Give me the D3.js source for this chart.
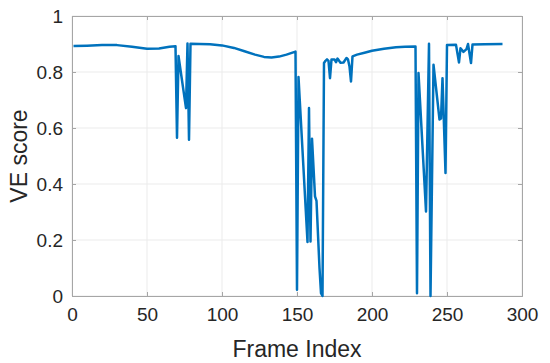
<!DOCTYPE html>
<html>
<head>
<meta charset="utf-8">
<script src="https://cdn.jsdelivr.net/npm/d3@7"></script>
<style>
  body { margin: 0; background: #fff; }
  text { font-family: "Liberation Sans", Arial, Helvetica, sans-serif; fill: #262626; }
</style>
</head>
<body>
<div id="container"></div>
<script>
// frame index and VE score
var frames = [1, 10, 20, 30, 40, 50, 58, 65, 69, 70, 71, 76, 77, 78, 79, 85, 92, 100, 108, 115,
  122, 128, 133, 138, 143, 149, 150, 151, 157, 158, 159, 160, 162, 163, 165, 166, 167, 168, 169, 170,
  171, 172, 173, 175, 176, 177, 179, 181, 183, 184, 185, 186, 187, 190, 195, 200, 208, 216, 222, 229,
  230, 231, 236, 238, 239, 241, 245, 246, 247, 249, 250, 256, 258, 259, 261, 263, 264, 266, 267, 275, 287];
var scores = [0.893, 0.894, 0.896, 0.896, 0.890, 0.883, 0.884, 0.890, 0.892, 0.565, 0.857, 0.671, 0.902, 0.558, 0.901, 0.900, 0.899, 0.895, 0.886, 0.874,
  0.862, 0.854, 0.852, 0.855, 0.862, 0.873, 0.022, 0.782, 0.193, 0.671, 0.195, 0.562, 0.356, 0.340, 0.100, 0.010, 0.000, 0.832, 0.840, 0.845,
  0.840, 0.778, 0.845, 0.845, 0.835, 0.848, 0.833, 0.834, 0.850, 0.845, 0.820, 0.766, 0.856, 0.862, 0.869, 0.876, 0.883, 0.888, 0.890, 0.891,
  0.010, 0.796, 0.302, 0.901, 0.000, 0.826, 0.630, 0.634, 0.778, 0.439, 0.896, 0.897, 0.834, 0.885, 0.872, 0.882, 0.900, 0.832, 0.898, 0.899, 0.900];
var xTicks = [0, 50, 100, 150, 200, 250, 300];
var yTicks = [0, 0.2, 0.4, 0.6, 0.8, 1];

var W = 550, H = 363,
    margin = {top: 16, bottom: 67, left: 72, right: 28},
    width = W - margin.left - margin.right,
    height = H - margin.top - margin.bottom;

var svg = d3.select("#container").append("svg").attr("width", W).attr("height", H);
var g = svg.append("g").attr("transform", "translate(" + margin.left + "," + margin.top + ")");

var xScale = d3.scaleLinear().domain([0, 300]).range([0, width]);
var yScale = d3.scaleLinear().domain([0, 1]).range([height, 0]);

// grid
g.append("g").selectAll("line").data(xTicks).enter().append("line")
  .attr("x1", d => xScale(d)).attr("x2", d => xScale(d))
  .attr("y1", 0).attr("y2", height)
  .attr("stroke", "#ebebeb").attr("stroke-width", 1);
g.append("g").selectAll("line").data(yTicks).enter().append("line")
  .attr("x1", 0).attr("x2", width)
  .attr("y1", d => yScale(d)).attr("y2", d => yScale(d))
  .attr("stroke", "#ebebeb").attr("stroke-width", 1);

// axes (ticks inward, MATLAB style)
var xAxis = d3.axisBottom(xScale).tickValues(xTicks).tickSize(-4).tickPadding(12).tickFormat(d3.format("d"));
var yAxis = d3.axisLeft(yScale).tickValues(yTicks).tickSize(-4).tickPadding(9).tickFormat(d => d === 0 || d === 1 ? d : d.toFixed(1));
var xTop = d3.axisTop(xScale).tickValues(xTicks).tickSize(-4).tickFormat("");
var yRight = d3.axisRight(yScale).tickValues(yTicks).tickSize(-4).tickFormat("");

[[xAxis, "translate(0," + height + ")"], [yAxis, "translate(0,0)"],
 [xTop, "translate(0,0)"], [yRight, "translate(" + width + ",0)"]].forEach(function(a) {
  var ax = g.append("g").attr("transform", a[1]).call(a[0]);
  ax.selectAll("path, line").attr("stroke", "#a6a6a6");
  ax.selectAll("text").style("font-size", "19px").attr("fill", "#262626");
});

// line
var line = d3.line()
  .x((d, i) => xScale(frames[i]))
  .y((d, i) => yScale(scores[i]));
g.append("path")
  .datum(scores)
  .attr("d", line)
  .attr("fill", "none")
  .attr("stroke", "#0072BD")
  .attr("stroke-width", 2.5)
  .attr("stroke-linejoin", "round");

// labels
svg.append("text").attr("x", margin.left + width / 2).attr("y", 357)
  .attr("text-anchor", "middle").style("font-size", "23px").text("Frame Index");
svg.append("text").attr("transform", "translate(27," + (margin.top + height / 2) + ") rotate(-90)")
  .attr("text-anchor", "middle").style("font-size", "23px").text("VE score");
</script>
</body>
</html>
